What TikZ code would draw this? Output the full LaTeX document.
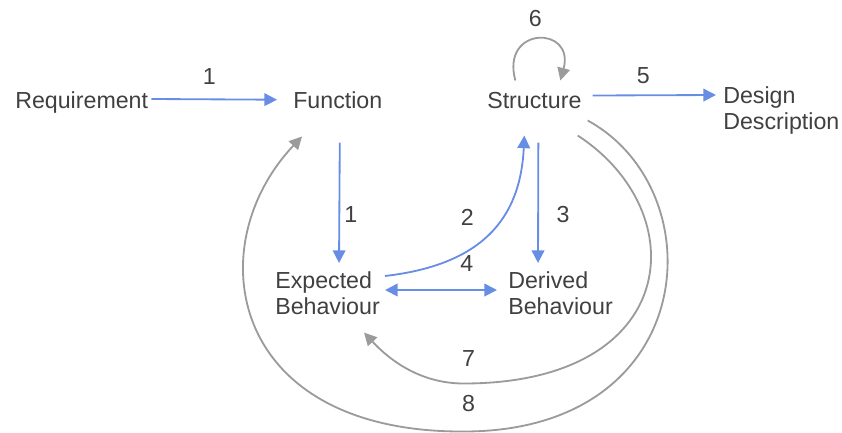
\documentclass[tikz,border=0pt]{standalone}
\usepackage{fontspec}
\setmainfont{Liberation Sans}
\usetikzlibrary{arrows.meta,calc}
\definecolor{flowblue}{RGB}{104,141,228}
\definecolor{loopgray}{RGB}{155,155,155}
\definecolor{textgray}{RGB}{64,64,64}

\begin{document}
\begin{tikzpicture}[x=0.025cm, y=-0.025cm,
    >={Triangle[length=9pt,width=9pt]},
    every node/.style={text=textgray, font=\fontsize{16.5}{18.8}\selectfont, inner sep=0pt},
    term/.style={align=left, anchor=north west},
    blueflow/.style={flowblue, line width=1.3pt, ->},
    grayflow/.style={loopgray, line width=1.3pt, ->}]
    \useasboundingbox (0,0) rectangle (842,433);

    % terms
    \node[anchor=base west] (req) at (15,108) {Requirement};
    \node[anchor=base west] (fun) at (293,108) {Function};
    \node[anchor=base west] (str) at (487,108) {Structure};
    \node[term] (des) at (723,86) {Design\\Description};
    \node[term] (exp) at (275,271) {Expected\\Behaviour};
    \node[term] (der) at (508,271) {Derived\\Behaviour};

    % design steps
    \draw[blueflow] ($(req.east)+(3,-3)$) -- node[above=10pt, xshift=-3.5pt] {1} ($(fun.west)+(-16,0)$);
    \draw[blueflow] ($(fun.south)+(2,34)$) -- node[pos=0.6, right=3pt] {1} ($(exp.north)+(11.5,-8)$);
    \draw[blueflow] ($(exp.north east)+(5,5)$) .. controls +(95,-11) and +(-4,85) .. ($(str.south)+(-10,27)$)
        node[pos=0.5, xshift=-15.3pt, yshift=11.6pt] {2};
    \draw[blueflow] ($(str.south)+(4,34)$) -- node[pos=0.6, right=12.4pt] {3} ($(der.north)+(-22.5,-8)$);
    \draw[blueflow, <->] ($(exp.east)+(5,-3)$) -- node[xshift=18.4pt, yshift=19pt] {4} ($(der.west)+(-11,-3)$);
    \draw[blueflow] ($(str.east)+(11,-4.5)$) -- node[xshift=-7.8pt, yshift=14.2pt] {5} ($(des.north west)+(-7,9)$);

    % reformulations
    \draw[grayflow] ($(str.north)+(-19,-11)$) .. controls +(-15,-55) and +(15,-55) .. ($(str.north)+(26,-11)$)
        node[pos=0.5, xshift=-1.8pt, yshift=14.7pt] {6};
    \draw[grayflow] ($(str.south east)+(-4,27)$) .. controls +(118,77) and +(217,0) .. ++(-114,248)
        node[xshift=3.5pt, yshift=17.7pt] {7}
        .. controls +(-43,0) and +(26,28) .. ($(exp.south)+(36.5,17.5)$);
    \draw[grayflow] ($(str.east)+(6,20.5)$) .. controls +(128,70) and +(237,0) .. ++(-124,311)
        node[xshift=3.5pt, yshift=19.7pt] {8}
        .. controls +(-235,1) and +(-104,110) .. ($(fun.south west)+(9,28)$);
\end{tikzpicture}
\end{document}
